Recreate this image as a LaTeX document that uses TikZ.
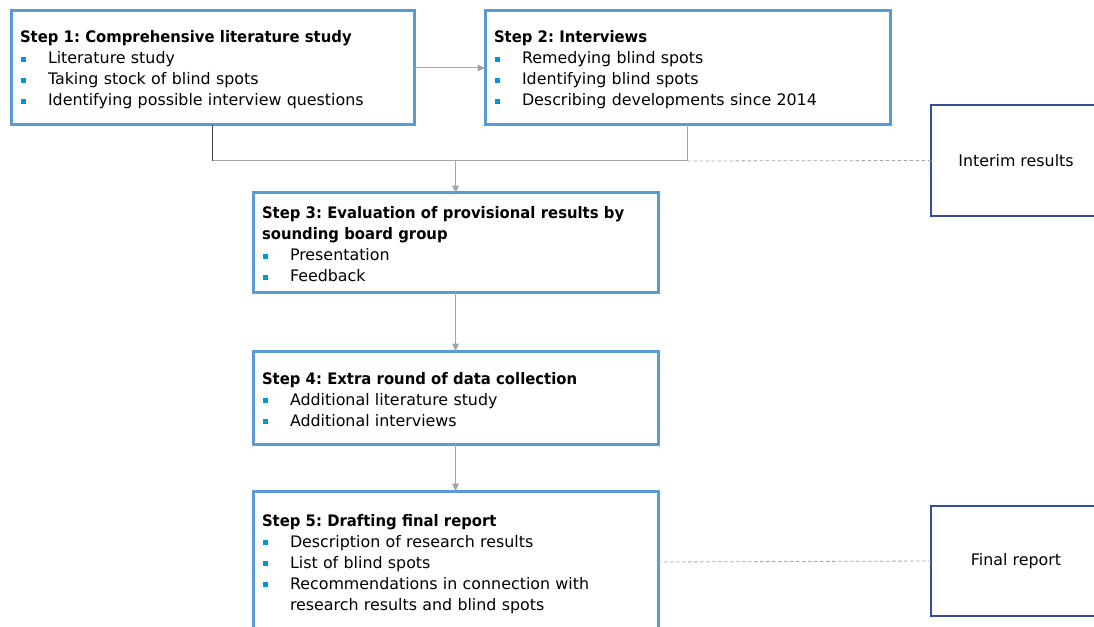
\documentclass[tikz,border=0pt]{standalone}
\usepackage{fontspec}
\setmainfont{DejaVu Sans}[BoldFeatures={FakeStretch=0.935}]
\usetikzlibrary{arrows.meta}

\definecolor{boxblue}{RGB}{91,155,213}
\definecolor{bulblue}{RGB}{0,150,220}
\definecolor{resblue}{RGB}{52,78,158}
\definecolor{linkgray}{RGB}{165,165,165}
\definecolor{joindark}{RGB}{64,64,64}

\frenchspacing
\newcommand{\bul}{\makebox[21pt][l]{\hspace*{1pt}\textcolor{bulblue}{\rule[1.6pt]{3.75pt}{3.75pt}}}}

\tikzset{every picture/.style={line width=0.75pt}}
\tikzset{
  stepbox/.style={draw=boxblue, line width=2.25pt, anchor=north west, align=left, outer sep=0pt,
    inner xsep=6.75pt, inner ysep=0pt, font=\fontsize{11.9}{15.75}\selectfont,
    execute at begin node={\rule{0pt}{12pt}}},
  resultbox/.style={draw=resblue, line width=1.5pt, anchor=north west, align=center, outer sep=0pt,
    minimum width=127.5pt, inner sep=0pt, font=\fontsize{11.9}{15.75}\selectfont},
  link/.style={draw=linkgray, line width=0.75pt},
  linkarrow/.style={link, -{Triangle[length=5.5pt,width=5pt]}},
  resultlink/.style={draw=linkgray, line width=0.6pt, dash pattern=on 2.75pt off 1.75pt},
}

\begin{document}
\begin{tikzpicture}[x=0.75pt,y=0.75pt,yscale=-1,xscale=1]
\useasboundingbox (0,0) rectangle (1094,627);
\clip (0,0) rectangle (1094,627);

% Step boxes
\node [stepbox, text width=288.75pt, minimum height=85.5pt] (s1) at (11,11)
  {\textbf{Step 1: Comprehensive literature study}\\
   \bul Literature study\\
   \bul Taking stock of blind spots\\
   \bul Identifying possible interview questions};
\node [stepbox, text width=290.25pt, minimum height=85.5pt] (s2) at (485,11)
  {\textbf{Step 2: Interviews}\\
   \bul Remedying blind spots\\
   \bul Identifying blind spots\\
   \bul Describing developments since 2014};
\node [stepbox, text width=290.25pt, minimum height=74.25pt] (s3) at (253,193)
  {\textbf{Step 3: Evaluation of provisional results by}\\
   \textbf{sounding board group}\\
   \bul Presentation\\
   \bul Feedback};
\node [stepbox, text width=290.25pt, minimum height=69.75pt] (s4) at (253,351)
  {\textbf{Step 4: Extra round of data collection}\\
   \bul Additional literature study\\
   \bul Additional interviews};
\node [stepbox, text width=290.25pt, minimum height=106.5pt] (s5) at (253,491)
  {\textbf{Step 5: Drafting final report}\\
   \bul Description of research results\\
   \bul List of blind spots\\
   \bul Recommendations in connection with\\
   \hspace*{21pt}research results and blind spots};

% Result boxes
\node [resultbox, minimum height=83.25pt] (interim) at (931,105) {Interim results};
\node [resultbox, minimum height=82.5pt] (final) at (931,506) {Final report};

% Connectors
\coordinate (join) at (455.5,161);
\draw [linkarrow] (s1.east) -- (s2.west);
\draw [draw=joindark] (s1.south) -- (s1.south |- join);
\draw [link] (s1.south |- join) -| (s2.south);
\draw [linkarrow] (join) -- (s3.north);
\draw [resultlink] (s2.south |- join) -- (interim.west);
\draw [linkarrow] (s3.south) -- (s4.north);
\draw [linkarrow] (s4.south) -- (s5.north);
\draw [resultlink] (s5.east) -- (final.west);

\end{tikzpicture}
\end{document}
